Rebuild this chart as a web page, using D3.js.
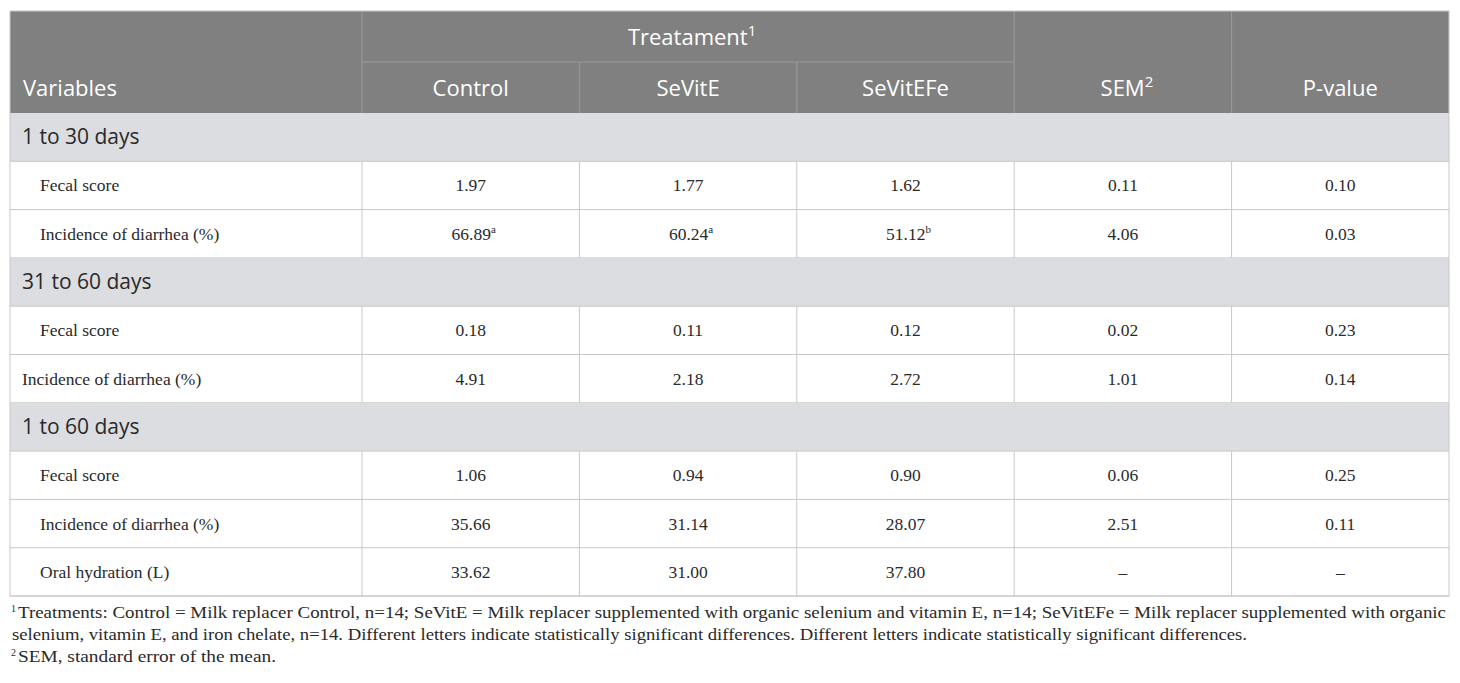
<!DOCTYPE html>
<html>
<head>
<meta charset="utf-8">
<script src="https://cdn.jsdelivr.net/npm/d3@7"></script>
<style>
  body { margin: 0; background: #fff; }
</style>
</head>
<body>
<div id="table"></div>
<script>
// Data
const groups = ["Control", "SeVitE", "SeVitEFe"];
const sections = ["1 to 30 days", "31 to 60 days", "1 to 60 days"];
const variables = [
  ["Fecal score", "Incidence of diarrhea (%)"],
  ["Fecal score", "Incidence of diarrhea (%)"],
  ["Fecal score", "Incidence of diarrhea (%)", "Oral hydration (L)"]
];
const indented = [[true, true], [true, false], [true, true, true]];
const controlValues = [["1.97", "66.89"], ["0.18", "4.91"], ["1.06", "35.66", "33.62"]];
const sevitEValues = [["1.77", "60.24"], ["0.11", "2.18"], ["0.94", "31.14", "31.00"]];
const sevitEFeValues = [["1.62", "51.12"], ["0.12", "2.72"], ["0.90", "28.07", "37.80"]];
const letters = [[["", "", ""], ["a", "a", "b"]], [["", "", ""], ["", "", ""]], [["", "", ""], ["", "", ""], ["", "", ""]]];
const semValues = [["0.11", "4.06"], ["0.02", "1.01"], ["0.06", "2.51", "–"]];
const pValues = [["0.10", "0.03"], ["0.23", "0.14"], ["0.25", "0.11", "–"]];
const footnotes = [
  ["1", "Treatments: Control = Milk replacer Control, n=14; SeVitE = Milk replacer supplemented with organic selenium and vitamin E, n=14; SeVitEFe = Milk replacer supplemented with organic"],
  ["", "selenium, vitamin E, and iron chelate, n=14. Different letters indicate statistically significant differences. Different letters indicate statistically significant differences."],
  ["2", "SEM, standard error of the mean."]
];

// Layout
const [width, height] = [1460, 683];
const [tLeft, tRight, tTop, headBottom, tBottom] = [10, 1449, 11, 113, 596];
const sans = "'Open Sans', 'Noto Sans', sans-serif";
const serif = "'Liberation Serif', 'Times New Roman', serif";

const svg = d3.select("#table").append("svg")
  .attr("width", width)
  .attr("height", height);

// Build flat row list
const rows = [];
sections.forEach((s, i) => {
  rows.push({ type: "section", label: s });
  variables[i].forEach((v, j) => {
    rows.push({
      type: "data", label: v, indent: indented[i][j],
      cells: [controlValues[i][j], sevitEValues[i][j], sevitEFeValues[i][j], semValues[i][j], pValues[i][j]],
      sup: [letters[i][j][0], letters[i][j][1], letters[i][j][2], "", ""]
    });
  });
});

const colKeys = ["var", ...groups, "SEM", "P"];
const xScale = d3.scaleBand().domain(colKeys.slice(1)).range([362, tRight]);
const yScale = d3.scaleBand().domain(d3.range(rows.length)).range([headBottom, tBottom]);

// Header
const headMid = (tTop + headBottom) / 2;
svg.append("rect")
  .attr("x", tLeft).attr("y", tTop)
  .attr("width", tRight - tLeft).attr("height", headBottom - tTop)
  .attr("fill", "#808080");

svg.append("line")
  .attr("x1", xScale("Control")).attr("x2", xScale("SEM"))
  .attr("y1", headMid).attr("y2", headMid)
  .attr("stroke", "#9a9a9a").attr("stroke-width", 1);

colKeys.slice(1).forEach(k => {
  const x = xScale(k);
  const isSub = groups.includes(k) && k !== "Control";
  svg.append("line")
    .attr("x1", x).attr("x2", x)
    .attr("y1", isSub ? headMid : tTop).attr("y2", headBottom)
    .attr("stroke", "#9a9a9a").attr("stroke-width", 1);
});

const headText = (x, y, txt, sup, anchor) => {
  const t = svg.append("text")
    .attr("x", x).attr("y", y)
    .attr("text-anchor", anchor || "middle")
    .attr("font-family", sans).attr("font-size", 22)
    .attr("fill", "#fff")
    .text(txt);
  if (sup) t.append("tspan").attr("dy", -9).attr("font-size", 15).text(sup);
};

headText(23, 96, "Variables", "", "start");
headText((xScale("Control") + xScale("SEM")) / 2 + 4, 45, "Treatament", "1");
groups.forEach(g => headText(xScale(g) + xScale.bandwidth() / 2, 96, g, ""));
headText(xScale("SEM") + xScale.bandwidth() / 2 + 4, 96, "SEM", "2");
headText(xScale("P") + xScale.bandwidth() / 2, 96, "P-value", "");

// Body rows
const body = svg.append("g");
rows.forEach((r, i) => {
  const y0 = yScale(i);
  const h = yScale.bandwidth();
  const cy = y0 + h / 2;
  if (r.type === "section") {
    body.append("rect")
      .attr("x", tLeft).attr("y", y0)
      .attr("width", tRight - tLeft).attr("height", h)
      .attr("fill", "#dcdde0");
    body.append("text")
      .attr("x", 22).attr("y", cy + 7)
      .attr("font-family", sans).attr("font-size", 21)
      .attr("fill", "#2a2a2a")
      .text(r.label);
  } else {
    body.append("text")
      .attr("x", r.indent ? 40 : 22).attr("y", cy + 6)
      .attr("font-family", serif).attr("font-size", 17.5)
      .attr("fill", "#2a2a2a")
      .text(r.label);
    colKeys.slice(1).forEach((k, j) => {
      const t = body.append("text")
        .attr("x", xScale(k) + xScale.bandwidth() / 2 + (r.sup[j] ? 3 : 0))
        .attr("y", cy + 6)
        .attr("text-anchor", "middle")
        .attr("font-family", serif).attr("font-size", 17.5)
        .attr("fill", "#2a2a2a")
        .text(r.cells[j]);
      if (r.sup[j]) t.append("tspan").attr("dy", -7).attr("font-size", 11).text(r.sup[j]);
    });
    colKeys.slice(1).forEach(k => {
      body.append("line")
        .attr("x1", xScale(k)).attr("x2", xScale(k))
        .attr("y1", y0).attr("y2", y0 + h)
        .attr("stroke", "#c8c8c8");
    });
  }
  body.append("line")
    .attr("x1", tLeft).attr("x2", tRight)
    .attr("y1", y0 + h).attr("y2", y0 + h)
    .attr("stroke", "#c8c8c8");
});

// Outer border
svg.append("rect")
  .attr("x", tLeft).attr("y", tTop)
  .attr("width", tRight - tLeft).attr("height", tBottom - tTop)
  .attr("fill", "none").attr("stroke", "#c8c8c8");

// Footnotes
const noteLengths = [1434, 1235, 264];
footnotes.forEach((f, i) => {
  const y = 618 + i * 22;
  if (f[0]) {
    svg.append("text")
      .attr("x", 11).attr("y", y - 6)
      .attr("font-family", serif).attr("font-size", 10)
      .attr("fill", "#2a2a2a")
      .text(f[0]);
  }
  svg.append("text")
    .attr("x", f[0] ? 18 : 12).attr("y", y)
    .attr("font-family", serif).attr("font-size", 16)
    .attr("fill", "#2a2a2a")
    .attr("textLength", noteLengths[i] - (f[0] ? 6 : 0))
    .attr("lengthAdjust", "spacingAndGlyphs")
    .text(f[1]);
});
</script>
</body>
</html>
